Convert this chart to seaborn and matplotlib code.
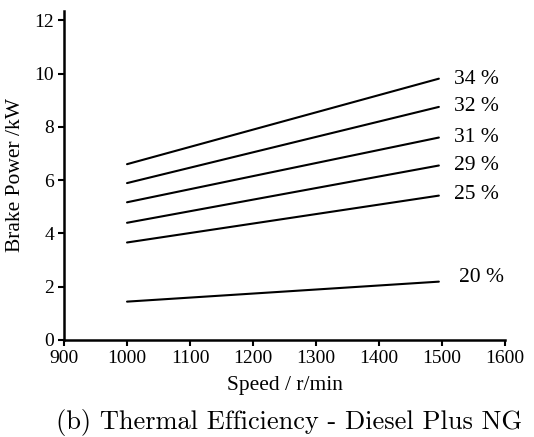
import matplotlib
matplotlib.use("Agg")
import matplotlib.pyplot as plt
import seaborn as sns
import pandas as pd

efficiency = ["34 %", "32 %", "31 %", "29 %", "25 %", "20 %"]
speed_start = 1000
speed_end = 1495
power_start = [6.60, 5.89, 5.17, 4.40, 3.66, 1.44]
power_end = [9.81, 8.75, 7.60, 6.55, 5.42, 2.19]
label_x = [1519, 1519, 1519, 1519, 1519, 1527]
label_y = [9.77, 8.77, 7.62, 6.54, 5.48, 2.33]

rows = []
for e, p0, p1 in zip(efficiency, power_start, power_end):
    rows.append({"eff": e, "speed": speed_start, "power": p0})
    rows.append({"eff": e, "speed": speed_end, "power": p1})
df = pd.DataFrame(rows)

sns.set_theme(style="ticks")
plt.rcParams["font.family"] = ["Liberation Serif", "DejaVu Serif"]

fig = plt.figure(figsize=(5.34, 4.37), dpi=100)
ax = fig.add_axes([0.1199, 0.2220, 0.8258, 0.7528])
sns.lineplot(data=df, x="speed", y="power", hue="eff", palette=["black"] * len(efficiency),
             legend=False, ax=ax, linewidth=1.5)

for t, x, y in zip(efficiency, label_x, label_y):
    ax.text(x, y, t, fontsize=15.5, va="center", ha="left", color="black")

ax.set_xlim(900, 1600)
ax.set_ylim(0, 12.35)
ax.set_xticks(range(900, 1601, 100))
ax.set_yticks(range(0, 13, 2))
ax.tick_params(axis="both", labelsize=14, direction="out", length=4, width=1.5, color="black",
               labelcolor="black", pad=3)
for s in ["top", "right"]:
    ax.spines[s].set_visible(False)
for s in ["left", "bottom"]:
    ax.spines[s].set_linewidth(1.8)
    ax.spines[s].set_color("black")
ax.set_xlabel("Speed / r/min", fontsize=15.5, color="black", labelpad=7)
ax.set_ylabel("Brake Power /kW", fontsize=15.5, color="black", labelpad=7)

fig.text(0.541, 0.034, "(b) Thermal Efficiency - Diesel Plus NG", fontsize=19,
         family=["cmr10", "DejaVu Serif"], ha="center", va="center", color="black")

fig.savefig("out.png", dpi=100)
